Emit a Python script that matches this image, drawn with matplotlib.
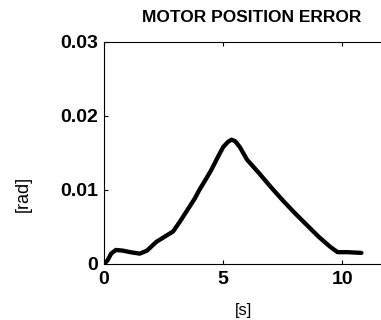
import matplotlib
matplotlib.use("Agg")
import matplotlib.pyplot as plt

# data
t = [0.0, 0.15, 0.3, 0.5, 0.8, 1.1, 1.5, 1.8, 2.2, 2.6, 2.9, 3.2, 3.5, 3.8, 4.0, 4.3, 4.5, 4.8, 5.0, 5.2, 5.35, 5.5, 5.7, 6.0, 6.5, 7.0, 7.5, 8.0, 8.5, 9.0, 9.5, 9.8, 10.2, 10.8]
err = [0.0, 0.0005, 0.0014, 0.0019, 0.0018, 0.0016, 0.0014, 0.0018, 0.0030, 0.0038, 0.0044, 0.0058, 0.0073, 0.0088, 0.0100, 0.0116, 0.0127, 0.0146, 0.0158, 0.0165, 0.0168, 0.0166, 0.0158, 0.0141, 0.0123, 0.0104, 0.0086, 0.0069, 0.0053, 0.0037, 0.0023, 0.0016, 0.0016, 0.0015]
xticks = [0, 5, 10]
yticks = [0, 0.01, 0.02, 0.03]
yticklabels = ["0", "0.01", "0.02", "0.03"]

plt.rcParams['font.family'] = ['Liberation Sans', 'DejaVu Sans']
fig = plt.figure(figsize=(3.81, 3.2), dpi=100)
W, H = 381, 320
x0, x1, ytop, ybot = 104, 390, 42, 264
ax = fig.add_axes([x0/W, (H-ybot)/H, (x1-x0)/W, (ybot-ytop)/H])
ax.plot(t, err, color='black', lw=3.1, solid_capstyle='round', solid_joinstyle='round')
ax.set_xlim(0, 12)
ax.set_ylim(0, 0.03)
ax.set_xticks(xticks)
ax.set_xticklabels([str(v) for v in xticks], fontsize=14, fontweight='bold')
ax.set_yticks(yticks)
ax.set_yticklabels(yticklabels, fontsize=14, fontweight='bold')
ax.tick_params(direction='in', length=3, width=0.8, top=True)
ax.tick_params(axis='x', pad=5)
ax.tick_params(axis='y', pad=4)
for s in ax.spines.values():
    s.set_linewidth(0.8)
ax.set_xlabel('[s]', fontsize=12, va='center')
ax.xaxis.set_label_coords((244-x0)/(x1-x0), (ybot-310)/(ybot-ytop))
ax.set_ylabel('[rad]', fontsize=13, va='center')
ax.yaxis.set_label_coords((23.5-x0)/(x1-x0), (ybot-194)/(ybot-ytop))
fig.text(252/W, 1 - 18/H, 'MOTOR POSITION ERROR', ha='center', va='center', fontsize=12.5, fontweight='bold')
fig.savefig('out.png', dpi=100)
